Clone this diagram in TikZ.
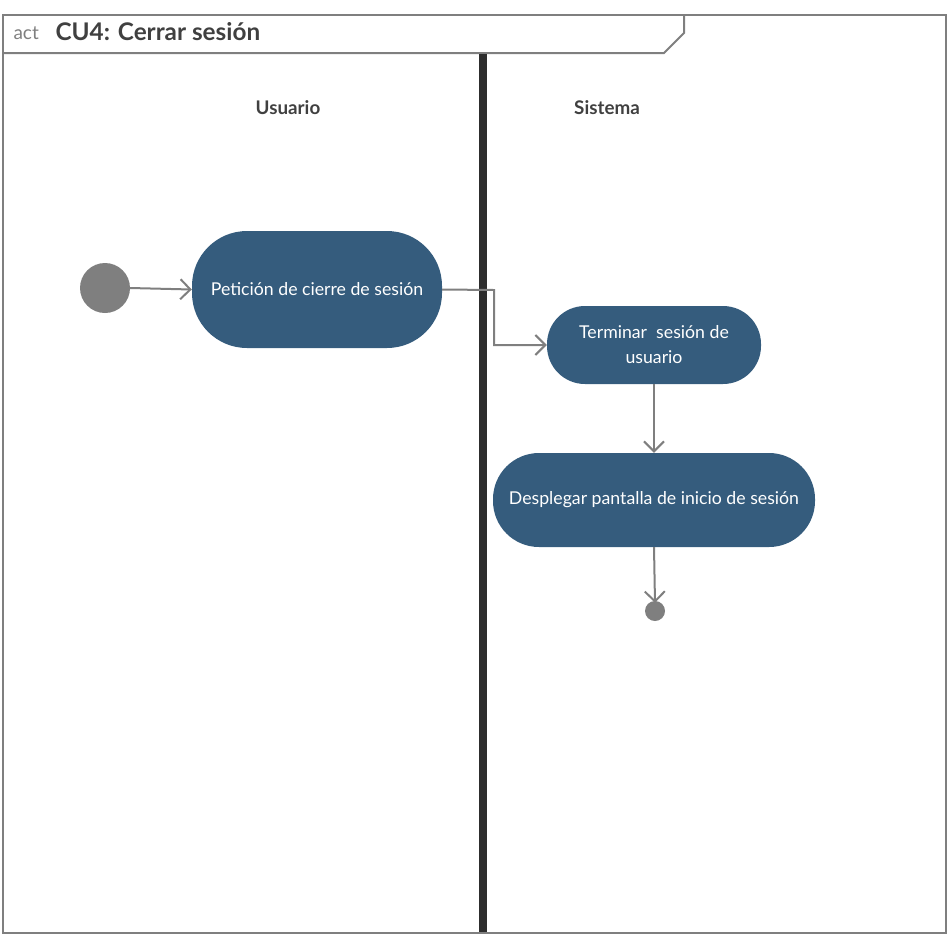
\documentclass[tikz,border=0pt]{standalone}
\usepackage{fontspec}
\setmainfont{Lato}
\usetikzlibrary{arrows.meta}
\definecolor{actfill}{HTML}{355C7D}
\definecolor{framegray}{HTML}{7F7F7F}
\definecolor{lanetext}{HTML}{404040}
\definecolor{barcol}{HTML}{2D2D2D}
\tikzset{
  actbox/.style={fill=actfill, draw=none, text=white, font=\fontsize{17.7}{25}\selectfont, align=center, inner sep=0pt},
  flow/.style={draw=framegray, line width=2pt, -{Straight Barb[length=10pt,width=20pt,line width=2pt]}},
  lanelabel/.style={text=lanetext, font=\bfseries\fontsize{18.8}{22}\selectfont},
  dot/.style={circle, fill=framegray, draw=none, inner sep=0pt},
}
\begin{document}
\begin{tikzpicture}[x=1pt,y=-1pt]
\useasboundingbox (0,0) rectangle (949,935);
% frame
\draw[framegray, line width=2pt] (2.5,14.5) rectangle (946,933);
\draw[framegray, line width=2pt] (2.5,53) -- (664,53) -- (684,33) -- (684,14.5);
\node[anchor=west, text=framegray, font=\fontsize{19}{21}\selectfont] (actlbl) at (10,33) {act};
\node[anchor=west, text=lanetext, font=\bfseries\fontsize{24.3}{26}\selectfont] (title) at (52,32) {CU4: Cerrar sesión};
% lane bar
\fill[barcol] (479,54) rectangle (487,932);
\node[lanelabel] (usr) at (288,108) {Usuario};
\node[lanelabel] (sys) at (607,108) {Sistema};
% nodes
\node[dot, minimum size=50pt] (start) at (105,288) {};
\node[actbox, minimum width=250pt, minimum height=117pt, rounded corners=55pt] (n1) at (317,289.5) {Petición de cierre de sesión};
\node[actbox, minimum width=214pt, minimum height=78pt, rounded corners=38pt] (n2) at (654,345) {Terminar\ \ sesión de\\usuario};
\node[actbox, minimum width=322pt, minimum height=94pt, rounded corners=46pt] (n3) at (654,500) {Desplegar pantalla de inicio de sesión};
\node[dot, minimum size=20pt] (end) at (655,611) {};
% flows
\draw[flow] (start.east) -- (n1.west);
\draw[flow] (n1.east) -- (494,290) |- (n2.west);
\draw[flow] (n2.south) -- (n3.north);
\draw[flow] (n3.south) -- ([yshift=-2pt]end.north);
\end{tikzpicture}
\end{document}
